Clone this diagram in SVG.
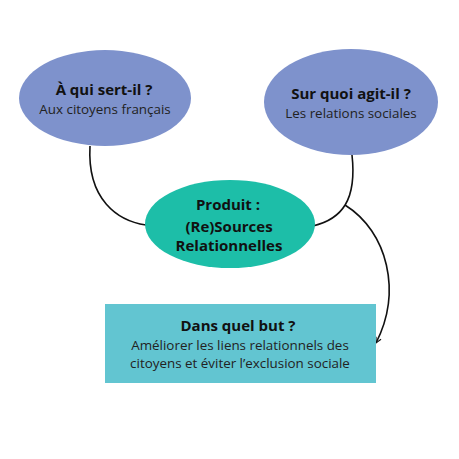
<svg xmlns="http://www.w3.org/2000/svg" width="459" height="459" viewBox="0 0 459 459">
<defs>
<style>
.t{font-family:"Open Sans","Noto Sans","Liberation Sans",sans-serif;text-anchor:middle;fill:#111}
.b{font-weight:bold;font-size:15px}
.r{font-size:13.4px;fill:#222}
.c{fill:none;stroke:#111;stroke-width:1.6}
</style>
<marker id="ah" viewBox="0 0 10 10" refX="9" refY="5" markerWidth="7" markerHeight="7" orient="auto" markerUnits="userSpaceOnUse">
<path d="M1 1 L9 5 L1 9" fill="none" stroke="#111" stroke-width="1.6"/>
</marker>
</defs>
<rect width="459" height="459" fill="#fff"/>
<g id="connectors">
<path class="c" d="M90 146 C87 200,118 221,146 225"/>
<path class="c" d="M352 155 C357 200,342 219,313 226"/>
<path class="c" d="M345 205 C388 232,402 292,376 343" marker-end="url(#ah)"/>
</g>
<g id="node-qui">
<ellipse cx="105" cy="98" rx="86" ry="48" fill="#7e92cc"/>
<text class="t b" x="104" y="95">À qui sert-il ?</text>
<text class="t r" x="105" y="114">Aux citoyens français</text>
</g>
<g id="node-quoi">
<ellipse cx="351" cy="102" rx="87" ry="53" fill="#7e92cc"/>
<text class="t b" x="351" y="99">Sur quoi agit-il ?</text>
<text class="t r" x="351" y="118">Les relations sociales</text>
</g>
<g id="node-produit">
<ellipse cx="230" cy="224" rx="85" ry="44" fill="#1dbea8"/>
<text class="t b" x="228" y="210">Produit :</text>
<text class="t b" x="229" y="232">(Re)Sources</text>
<text class="t b" x="229" y="251">Relationnelles</text>
</g>
<g id="node-but">
<rect x="105" y="304" width="271" height="79" fill="#62c5d1"/>
<text class="t b" x="238" y="331">Dans quel but ?</text>
<text class="t r" x="240" y="350">Améliorer les liens relationnels des</text>
<text class="t r" x="240" y="368">citoyens et éviter l’exclusion sociale</text>
</g>
</svg>
